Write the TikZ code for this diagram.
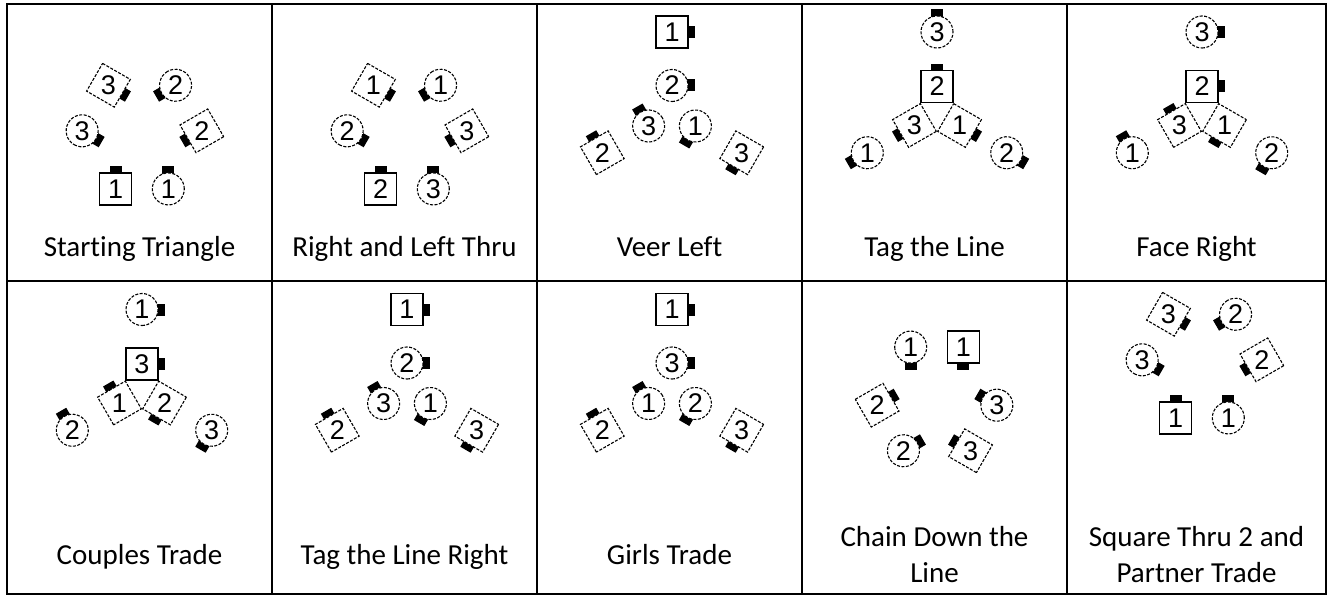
\documentclass[tikz,border=0pt]{standalone}
\usepackage{fontspec}
\setmainfont{Carlito}[Ligatures={NoCommon,NoContextual}]
\newfontfamily\digitfont{Liberation Sans}
\usetikzlibrary{calc}
\tikzset{
  x=1pt, y=1pt,
  grid line/.style={line width=2.2pt, line cap=rect},
  dnum/.style={inner sep=0pt, font=\digitfont\fontsize{27}{27}\selectfont},
  caption/.style={font=\fontsize{29}{36}\selectfont, anchor=base, align=center, inner sep=0pt},
  outline solid/.style={line width=1.2pt},
  outline dashed/.style={line width=1.1pt, dash pattern=on 3pt off 1.5pt},
  nose/.style={fill=black},
}
\newcommand{\boy}[4]{%
  \coordinate (#1-p) at #2;
  \pgfmathtruncatemacro\axial{mod(#4,90)==0}%
  \ifnum\axial=1 \tikzset{dancer line/.style={outline solid}}\else\tikzset{dancer line/.style={outline dashed}}\fi
  \begin{scope}[shift={(#1-p)}, rotate={#4-90}]
    \fill[nose] (-6,15) rectangle (6,22.5);
    \draw[fill=white, dancer line] (-16,-16) rectangle (16,16);
  \end{scope}
  \node[dnum] (#1) at (#1-p) {#3};
}
\newcommand{\girl}[4]{%
  \coordinate (#1-p) at #2;
  \begin{scope}[shift={(#1-p)}, rotate={#4-90}]
    \fill[nose] (-6,14) rectangle (6,22.5);
    \draw[fill=white, outline dashed] (0,0) circle[radius=16pt];
  \end{scope}
  \node[dnum] (#1) at (#1-p) {#3};
}
\begin{document}
\begin{tikzpicture}
\useasboundingbox (0,0) rectangle (1330,-596);
% table
\draw[grid line] (7,-4) rectangle (1326,-594);
\draw[grid line] (7,-281) -- (1326,-281);
\foreach \xx in {272,537,802,1067} \draw[grid line] (\xx,-4) -- (\xx,-594);

% formation centres
\coordinate (C1) at (142,-135);
\coordinate (C2) at (407,-135);
\coordinate (C3) at (672,-112.5);
\coordinate (C4) at (937,-112.5);
\coordinate (C5) at (1202,-112.5);
\coordinate (C6) at (142,-390);
\coordinate (C7) at (407,-390);
\coordinate (C8) at (672,-390);
\coordinate (C9) at (937,-401);
\coordinate (C10) at (1202,-364);

% cell 1: Starting Triangle
\boy{a1}{($(C1)+(244:60)$)}{1}{90}
\girl{a2}{($(C1)+(296:60)$)}{1}{90}
\boy{a3}{($(C1)+(4:60)$)}{2}{210}
\girl{a4}{($(C1)+(56:60)$)}{2}{210}
\boy{a5}{($(C1)+(124:60)$)}{3}{330}
\girl{a6}{($(C1)+(176:60)$)}{3}{330}

% cell 2: Right and Left Thru
\boy{b1}{($(C2)+(244:60)$)}{2}{90}
\girl{b2}{($(C2)+(296:60)$)}{3}{90}
\boy{b3}{($(C2)+(4:60)$)}{3}{210}
\girl{b4}{($(C2)+(56:60)$)}{1}{210}
\boy{b5}{($(C2)+(124:60)$)}{1}{330}
\girl{b6}{($(C2)+(176:60)$)}{2}{330}

% cell 3: Veer Left
\boy{c1}{($(C3)+(90:80.5)$)}{1}{0}
\girl{c2}{($(C3)+(90:27)$)}{2}{0}
\boy{c3}{($(C3)+(210:80.5)$)}{2}{120}
\girl{c4}{($(C3)+(210:27)$)}{3}{120}
\boy{c5}{($(C3)+(330:80.5)$)}{3}{240}
\girl{c6}{($(C3)+(330:27)$)}{1}{240}

% cell 4: Tag the Line
\girl{d1}{($(C4)+(90:80.5)$)}{3}{90}
\boy{d2}{($(C4)+(90:26)$)}{2}{90}
\girl{d3}{($(C4)+(210:80.5)$)}{1}{210}
\boy{d4}{($(C4)+(210:26)$)}{3}{210}
\girl{d5}{($(C4)+(330:80.5)$)}{2}{330}
\boy{d6}{($(C4)+(330:26)$)}{1}{330}

% cell 5: Face Right
\girl{e1}{($(C5)+(90:80.5)$)}{3}{0}
\boy{e2}{($(C5)+(90:26)$)}{2}{0}
\girl{e3}{($(C5)+(210:80.5)$)}{1}{120}
\boy{e4}{($(C5)+(210:26)$)}{3}{120}
\girl{e5}{($(C5)+(330:80.5)$)}{2}{240}
\boy{e6}{($(C5)+(330:26)$)}{1}{240}

% cell 6: Couples Trade
\girl{f1}{($(C6)+(90:80.5)$)}{1}{0}
\boy{f2}{($(C6)+(90:26)$)}{3}{0}
\girl{f3}{($(C6)+(210:80.5)$)}{2}{120}
\boy{f4}{($(C6)+(210:26)$)}{1}{120}
\girl{f5}{($(C6)+(330:80.5)$)}{3}{240}
\boy{f6}{($(C6)+(330:26)$)}{2}{240}

% cell 7: Tag the Line Right
\boy{g1}{($(C7)+(90:80.5)$)}{1}{0}
\girl{g2}{($(C7)+(90:27)$)}{2}{0}
\boy{g3}{($(C7)+(210:80.5)$)}{2}{120}
\girl{g4}{($(C7)+(210:27)$)}{3}{120}
\boy{g5}{($(C7)+(330:80.5)$)}{3}{240}
\girl{g6}{($(C7)+(330:27)$)}{1}{240}

% cell 8: Girls Trade
\boy{h1}{($(C8)+(90:80.5)$)}{1}{0}
\girl{h2}{($(C8)+(90:27)$)}{3}{0}
\boy{h3}{($(C8)+(210:80.5)$)}{2}{120}
\girl{h4}{($(C8)+(210:27)$)}{1}{120}
\boy{h5}{($(C8)+(330:80.5)$)}{3}{240}
\girl{h6}{($(C8)+(330:27)$)}{2}{240}

% cell 9: Chain Down the Line
\boy{i1}{($(C9)+(64:60)$)}{1}{270}
\girl{i2}{($(C9)+(116:60)$)}{1}{270}
\boy{i3}{($(C9)+(184:60)$)}{2}{30}
\girl{i4}{($(C9)+(236:60)$)}{2}{30}
\boy{i5}{($(C9)+(304:60)$)}{3}{150}
\girl{i6}{($(C9)+(356:60)$)}{3}{150}

% cell 10: Square Thru 2 and Partner Trade
\boy{j1}{($(C10)+(244:60)$)}{1}{90}
\girl{j2}{($(C10)+(296:60)$)}{1}{90}
\boy{j3}{($(C10)+(4:60)$)}{2}{210}
\girl{j4}{($(C10)+(56:60)$)}{2}{210}
\boy{j5}{($(C10)+(124:60)$)}{3}{330}
\girl{j6}{($(C10)+(176:60)$)}{3}{330}

% captions
\node[caption] (t1) at (139.5,-256) {Starting Triangle};
\node[caption] (t2) at (404.5,-256) {Right and Left Thru};
\node[caption] (t3) at (669.5,-256) {Veer Left};
\node[caption] (t4) at (934.5,-256) {Tag the Line};
\node[caption] (t5) at (1196.5,-256) {Face Right};
\node[caption] (t6) at (139.5,-564) {Couples Trade};
\node[caption] (t7) at (404.5,-564) {Tag the Line Right};
\node[caption] (t8) at (669.5,-564) {Girls Trade};
\node[caption] (t9) at (934.5,-582) {Chain Down the\\Line};
\node[caption] (t10) at (1196.5,-582) {Square Thru 2 and\\Partner Trade};
\end{tikzpicture}
\end{document}
